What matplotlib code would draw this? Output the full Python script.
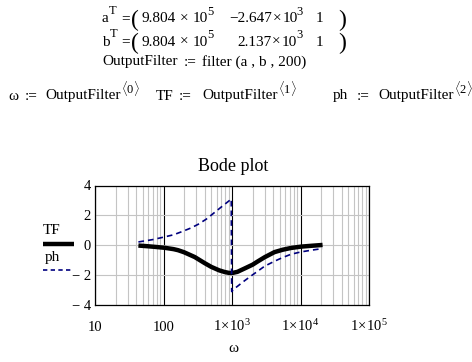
import matplotlib
matplotlib.use("Agg")
import matplotlib.pyplot as plt
from matplotlib.lines import Line2D
from matplotlib.ticker import FixedLocator, NullFormatter

plt.rcParams['font.family'] = ['Liberation Serif', 'DejaVu Serif']
plt.rcParams['mathtext.fontset'] = 'custom'
plt.rcParams['mathtext.rm'] = 'Liberation Serif'
plt.rcParams['mathtext.it'] = 'Liberation Serif:italic'
plt.rcParams['mathtext.bf'] = 'Liberation Serif:bold'

# ---- data ----
omega_tf = [43, 60, 80, 104, 140, 163, 200, 286, 400, 499, 650, 780, 900, 975,
            1050, 1200, 1520, 2000, 2400, 3000, 4170, 5500, 7300, 10300, 15000, 21000]
tf = [-0.02, -0.07, -0.12, -0.17, -0.26, -0.33, -0.47, -0.79, -1.2, -1.45, -1.68, -1.79,
      -1.85, -1.86, -1.84, -1.78, -1.56, -1.3, -1.07, -0.8, -0.46, -0.3, -0.18, -0.09,
      -0.03, 0.02]

omega_ph = [43, 70, 102, 140, 183, 250, 320, 422, 558, 738, 922, 975, 990, 1054,
            1200, 1520, 2000, 2400, 3000, 4170, 5500, 7300, 10300, 15000, 21000]
ph = [0.22, 0.38, 0.55, 0.7, 0.9, 1.15, 1.4, 1.75, 2.2, 2.65, 3.0, 3.1, -3.1, -2.95,
      -2.75, -2.38, -1.98, -1.72, -1.4, -1.07, -0.82, -0.6, -0.44, -0.32, -0.22]

x_ticks = [10, 100, 1e3, 1e4, 1e5]
x_labels = ["10", "100", r"$1\!\times\!10^{3}$", r"$1\!\times\!10^{4}$", r"$1\!\times\!10^{5}$"]
y_ticks = [-4, -2, 0, 2, 4]
y_labels = ["\u2212 4", "\u2212 2", "0", "2", "4"]

a_row = [("9.804", "5"), ("\u22122.647", "3"), "1"]
b_row = [("9.804", "5"), ("2.137", "3"), "1"]

W, H = 472, 362
fig = plt.figure(figsize=(W / 100, H / 100), dpi=100)
fig.patch.set_facecolor('white')
renderer = fig.canvas.get_renderer()

def fx(px):
    return px / W

def fy(py):
    return 1 - py / H

fs = 11
sup = 9

def put(x, y, s, size=fs, dy=0.0):
    """place text with left edge at pixel x, vertical centre at pixel y; return right edge"""
    t = fig.text(fx(x), fy(y - dy), s, fontsize=size, va='center')
    bb = t.get_window_extent(renderer=renderer)
    return x + bb.width

def sci(x, y, mant, exp, gap):
    x = put(x, y, mant) + gap
    x = put(x, y, "\u00d7") + gap
    x = put(x, y, "10") - 1.0
    return put(x, y, exp, size=sup, dy=7)

# ---- worksheet text ----
for y, name, row, x2 in [(19, "a", a_row, 229), (42, "b", b_row, 237)]:
    xe = put(102, y, name)
    put(xe, y, "T", size=sup, dy=8)
    put(121, y, "=")
    put(131, y + 1, "(", size=17)
    sci(142, y, row[0][0], row[0][1], 4)
    sci(x2, y, row[1][0], row[1][1], 1)
    put(316, y, row[2])
    put(338, y + 1, ")", size=17)

xe = put(102, 62, "OutputFilter")
xe = put(xe + 6, 62, ":=")
put(xe + 6, 62, "filter (a , b , 200)")

for xn, name, xa, xo, k in [(8, "ω", 25, 45, 0),
                            (156, "TF", 179, 202, 1),
                            (333, "ph", 357, 378, 2)]:
    put(xn, 96, name)
    put(xa, 96, ":=")
    xe = put(xo, 96, "OutputFilter")
    put(xe + 1, 96, r"$\langle %d\rangle$" % k, size=sup, dy=8)

# ---- plot ----
left, right, top, bottom = 95, 369, 185.5, 305
ax = fig.add_axes([fx(left), fy(bottom), (right - left) / W, (bottom - top) / H])
ax.set_xscale('log')
ax.set_xlim(10, 1e5)
ax.set_ylim(-4, 4)

ax.plot(omega_tf, tf, color='black', lw=3.2, solid_capstyle='butt', zorder=4)
l_ph, = ax.plot(omega_ph, ph, color='#00007f', lw=1.2, zorder=5)
l_ph.set_dashes([3.4, 2.4])

ax.xaxis.set_major_locator(FixedLocator(x_ticks))
ax.set_xticklabels(x_labels)
minor = [m * 10 ** e for e in range(1, 5) for m in range(2, 10)]
ax.xaxis.set_minor_locator(FixedLocator(minor))
ax.xaxis.set_minor_formatter(NullFormatter())
ax.set_yticks(y_ticks)
ax.set_yticklabels(y_labels)

ax.tick_params(axis='both', which='both', length=0, labelsize=10.5)
ax.tick_params(axis='x', pad=19)
ax.tick_params(axis='y', pad=3)
for lab in ax.get_xticklabels():
    lab.set_va('baseline')

ax.grid(which='minor', axis='x', color='#c4c4c4', lw=0.8)
ax.grid(which='major', axis='x', color='black', lw=0.8)
ax.grid(which='major', axis='y', color='#c4c4c4', lw=0.8)
ax.set_axisbelow(True)
for sp in ax.spines.values():
    sp.set_color('black')
    sp.set_linewidth(0.9)

# title and axis label
fig.text(fx(233), fy(166), "Bode plot", fontsize=13, ha='center', va='center')
fig.text(fx(233), fy(349), "ω", fontsize=11, ha='center', va='center')

# legend (Mathcad style: name above sample line)
fig.text(fx(43), fy(230), "TF", fontsize=11, va='center')
fig.add_artist(Line2D([fx(43), fx(74)], [fy(244), fy(244)], color='black', lw=3.2,
                      solid_capstyle='butt'))
fig.text(fx(45), fy(258), "ph", fontsize=11, va='center')
leg_ph = Line2D([fx(43), fx(73)], [fy(270), fy(270)], color='#00007f', lw=1.2)
leg_ph.set_dashes([2.6, 2.0])
fig.add_artist(leg_ph)

fig.savefig("out.png", dpi=100, facecolor='white')
